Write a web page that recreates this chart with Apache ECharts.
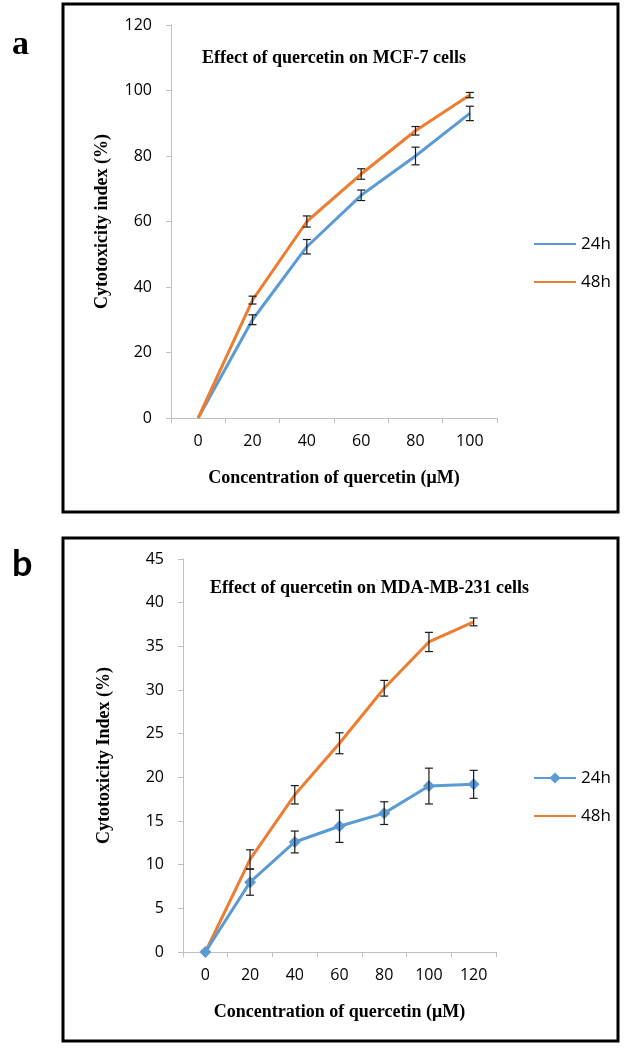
<!DOCTYPE html>
<html><head><meta charset="utf-8">
<script src="https://cdn.jsdelivr.net/npm/echarts@6/dist/echarts.min.js"></script>
<style>html,body{margin:0;padding:0;background:#fff}#c{width:630px;height:1050px}</style>
</head><body><div id="c"></div>
<script>
// ---- data ----
const concA = ['0', '20', '40', '60', '80', '100'];
const mcf24 = [0, 30, 52.3, 68, 80, 93];
const mcf24Err = [0, 1.5, 2.2, 1.6, 2.7, 2.2];
const mcf48 = [0, 36, 60, 74.5, 87.7, 98.6];
const mcf48Err = [0, 1.2, 1.7, 1.6, 1.3, 0.8];

const concB = ['0', '20', '40', '60', '80', '100', '120'];
const mda24 = [0, 8, 12.6, 14.4, 15.9, 19.0, 19.2];
const mda24Err = [0, 1.5, 1.25, 1.85, 1.3, 2.05, 1.6];
const mda48 = [0, 10.6, 18.0, 23.9, 30.2, 35.5, 37.8];
const mda48Err = [0, 1.1, 1.05, 1.2, 0.9, 1.1, 0.45];

const legendLabels = {a24: '24h', a48: '48h', b24: '24h', b48: '48h'};
const titleA = 'Effect of quercetin on MCF-7 cells';
const titleB = 'Effect of quercetin on MDA-MB-231 cells';
const xName = 'Concentration of quercetin (μM)';
const yNameA = 'Cytotoxicity index (%)';
const yNameB = 'Cytotoxicity Index (%)';

// ---- styles ----
const BLUE = '#5B9BD5', ORANGE = '#ED7D31';
const AXIS = '#bfbfbf';
const SANS = "'Open Sans', sans-serif";
const SERIF = "'Liberation Serif', 'DejaVu Serif', serif";

function errRender(params, api) {
  const i = api.value(0), v = api.value(1), e = api.value(2);
  if (!e) return null;
  const hi = api.coord([i, v + e]), lo = api.coord([i, v - e]);
  const w = 4;
  const style = {stroke: '#1a1a1a', lineWidth: 1.2};
  return {type: 'group', children: [
    {type: 'line', shape: {x1: hi[0], y1: hi[1], x2: lo[0], y2: lo[1]}, style: style},
    {type: 'line', shape: {x1: hi[0] - w, y1: hi[1], x2: hi[0] + w, y2: hi[1]}, style: style},
    {type: 'line', shape: {x1: lo[0] - w, y1: lo[1], x2: lo[0] + w, y2: lo[1]}, style: style}
  ]};
}
function errData(vals, errs) { return vals.map((v, i) => [i, v, errs[i]]); }

function xAxisCfg(cats, gridIndex) {
  return {
    type: 'category', gridIndex: gridIndex, data: cats, boundaryGap: true,
    axisLine: {lineStyle: {color: AXIS, width: 1}},
    axisTick: {show: true, length: 5, lineStyle: {color: AXIS}},
    axisLabel: {fontFamily: SANS, fontSize: 16, color: '#000', margin: 15},
    splitLine: {show: false},
    name: xName, nameLocation: 'middle', nameGap: 51,
    nameTextStyle: {fontFamily: SERIF, fontWeight: 'bold', fontSize: 18, color: '#000'}
  };
}
function yAxisCfg(max, interval, name, gridIndex, gap) {
  return {
    type: 'value', gridIndex: gridIndex, min: 0, max: max, interval: interval,
    axisLine: {show: true, lineStyle: {color: AXIS, width: 1}},
    axisTick: {show: true, length: 5, lineStyle: {color: AXIS}},
    axisLabel: {fontFamily: SANS, fontSize: 16, color: '#000', margin: 19},
    splitLine: {show: false},
    name: name, nameLocation: 'middle', nameGap: gap,
    nameTextStyle: {fontFamily: SERIF, fontWeight: 'bold', fontSize: 18, color: '#000'}
  };
}
function lineSeries(id, data, color, xi, yi, symbol) {
  return {
    type: 'line', name: id, xAxisIndex: xi, yAxisIndex: yi, data: data,
    lineStyle: {color: color, width: 3},
    itemStyle: {color: color},
    symbol: symbol || 'none', symbolSize: 12, showSymbol: !!symbol,
    z: 2
  };
}
function errSeries(vals, errs, xi, yi) {
  return {
    type: 'custom', xAxisIndex: xi, yAxisIndex: yi, renderItem: errRender,
    data: errData(vals, errs), encode: {x: 0, y: 1}, z: 5, silent: true
  };
}
const legendBase = {
  orient: 'vertical', itemWidth: 42, itemHeight: 14, itemGap: 20,
  formatter: n => legendLabels[n],
  textStyle: {fontFamily: SANS, fontSize: 17, color: '#000', lineHeight: 18}
};
const noMarker = {opacity: 0};

const chart = echarts.init(document.getElementById('c'), null, {renderer: 'canvas'});
chart.setOption({
  animation: false,
  backgroundColor: '#fff',
  title: [
    {text: titleA, left: 197, top: 44, textStyle: {fontFamily: SERIF, fontWeight: 'bold', fontSize: 18, color: '#000'}},
    {text: titleB, left: 205, top: 574, textStyle: {fontFamily: SERIF, fontWeight: 'bold', fontSize: 18, color: '#000'}}
  ],
  grid: [
    {left: 171, right: 133, top: 25, bottom: 632},
    {left: 183, right: 134, top: 559, bottom: 98}
  ],
  xAxis: [xAxisCfg(concA, 0), xAxisCfg(concB, 1)],
  yAxis: [yAxisCfg(120, 20, yNameA, 0, 60), yAxisCfg(45, 5, yNameB, 1, 70)],
  legend: [
    Object.assign({}, legendBase, {data: [{name: 'a24', itemStyle: noMarker}, {name: 'a48', itemStyle: noMarker}], left: 528, top: 230}),
    Object.assign({}, legendBase, {data: [{name: 'b24'}, {name: 'b48', itemStyle: noMarker}], left: 528, top: 764})
  ],
  series: [
    lineSeries('a24', mcf24, BLUE, 0, 0),
    lineSeries('a48', mcf48, ORANGE, 0, 0),
    errSeries(mcf24, mcf24Err, 0, 0),
    errSeries(mcf48, mcf48Err, 0, 0),
    lineSeries('b48', mda48, ORANGE, 1, 1),
    lineSeries('b24', mda24, BLUE, 1, 1, 'diamond'),
    errSeries(mda24, mda24Err, 1, 1),
    errSeries(mda48, mda48Err, 1, 1)
  ],
  graphic: [
    {type: 'rect', shape: {x: 63, y: 4, width: 555, height: 508}, style: {fill: 'none', stroke: '#000', lineWidth: 3}, z: 0},
    {type: 'rect', shape: {x: 63, y: 538, width: 555, height: 503}, style: {fill: 'none', stroke: '#000', lineWidth: 3}, z: 0},
    {type: 'text', left: 12, top: 28, style: {text: 'a', font: "bold 34px 'Liberation Serif', serif", fill: '#000'}},
    {type: 'text', left: 12, top: 546, style: {text: 'b', font: "bold 36px Lato, 'Open Sans', sans-serif", fill: '#000'}}
  ]
});
</script>
</body></html>
